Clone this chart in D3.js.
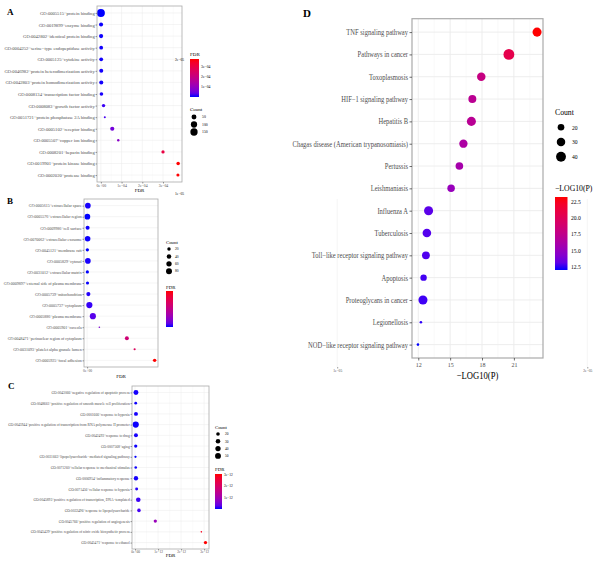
<!DOCTYPE html>
<html><head><meta charset="utf-8">
<script src="https://cdn.jsdelivr.net/npm/d3@7"></script>
<style>body{margin:0;background:#fff}svg{display:block}</style>
</head><body><svg id="c" width="600" height="563"></svg>
<script>
// ---------- Panel A (GO molecular function) ----------
const aTerms = ["GO:0005515~protein binding","GO:0019899~enzyme binding","GO:0042802~identical protein binding",
 "GO:0004252~serine−type endopeptidase activity","GO:0005125~cytokine activity","GO:0046982~protein heterodimerization activity",
 "GO:0042803~protein homodimerization activity","GO:0008134~transcription factor binding","GO:0008083~growth factor activity",
 "GO:0051721~protein phosphatase 2A binding","GO:0005102~receptor binding","GO:0005507~copper ion binding",
 "GO:0008201~heparin binding","GO:0019901~protein kinase binding","GO:0002020~protease binding"];
const aFDR = [2e-8,1.0e-6,1.2e-6,1.6e-6,1.6e-6,2.0e-6,2.0e-6,2.8e-6,1.3e-5,1.9e-5,5.5e-5,8.4e-5,3.0e-4,3.73e-4,3.72e-4];
const aCount = [190,28,30,22,22,26,28,20,16,6,30,7,14,18,12];
const aXTicks = [0,1e-4,2e-4,3e-4];
const aXTickLabels = ["0e+00","1e−04","2e−04","3e−04"];
const aColorTicks = [1e-4,2e-4,3e-4];
const aColorTickLabels = ["1e−04","2e−04","3e−04"];
const aSizeBreaks = [50,100,150];

// ---------- Panel B (GO cellular component) ----------
const bTerms = ["GO:0005615~extracellular space","GO:0005576~extracellular region","GO:0009986~cell surface",
 "GO:0070062~extracellular exosome","GO:0045121~membrane raft","GO:0005829~cytosol","GO:0031012~extracellular matrix",
 "GO:0009897~external side of plasma membrane","GO:0005739~mitochondrion","GO:0005737~cytoplasm",
 "GO:0005886~plasma membrane","GO:0005901~caveola","GO:0048471~perinuclear region of cytoplasm",
 "GO:0031093~platelet alpha granule lumen","GO:0005925~focal adhesion"];
const bFDR = [3e-8,1e-8,2e-8,2e-8,1e-8,3e-8,1e-8,1.5e-8,5e-8,9e-8,2.3e-7,4.9e-7,1.59e-6,1.9e-6,2.7e-6];
const bCount = [70,72,30,68,18,70,17,16,32,88,86,7,28,8,20];
const bXTicks = [0,1e-5,2e-5];
const bXTickLabels = ["0e+00","1e−05","2e−05"];
const bColorTicks = [1e-5,2e-5];
const bColorTickLabels = ["1e−05","2e−05"];
const bSizeBreaks = [20,40,60,80];

// ---------- Panel C (GO biological process) ----------
const cTerms = ["GO:0043066~negative regulation of apoptotic process",
 "GO:0048661~positive regulation of smooth muscle cell proliferation","GO:0001666~response to hypoxia",
 "GO:0045944~positive regulation of transcription from RNA polymerase II promoter","GO:0042493~response to drug",
 "GO:0007568~aging","GO:0031663~lipopolysaccharide−mediated signaling pathway",
 "GO:0071260~cellular response to mechanical stimulus","GO:0006954~inflammatory response",
 "GO:0071456~cellular response to hypoxia","GO:0045893~positive regulation of transcription, DNA−templated",
 "GO:0032496~response to lipopolysaccharide","GO:0045766~positive regulation of angiogenesis",
 "GO:0045429~positive regulation of nitric oxide biosynthetic process","GO:0045471~response to ethanol"];
const cFDR = [4e-14,3e-14,4e-14,3e-14,4e-14,3e-14,2e-14,3e-14,4e-14,7e-14,1.4e-13,1.7e-13,8.8e-13,2.88e-12,3.06e-12];
const cCount = [35,14,23,56,23,17,12,13,27,15,30,19,17,11,17];
const cXTicks = [0,1e-12,2e-12,3e-12];
const cXTickLabels = ["0e+00","1e−12","2e−12","3e−12"];
const cColorTicks = [1e-12,2e-12,3e-12];
const cColorTickLabels = ["1e−12","2e−12","3e−12"];
const cSizeBreaks = [20,30,40,50];

// ---------- Panel D (KEGG) ----------
const dTerms = ["TNF signaling pathway","Pathways in cancer","Toxoplasmosis","HIF−1 signaling pathway","Hepatitis B",
 "Chagas disease (American trypanosomiasis)","Pertussis","Leishmaniasis","Influenza A","Tuberculosis",
 "Toll−like receptor signaling pathway","Apoptosis","Proteoglycans in cancer","Legionellosis",
 "NOD−like receptor signaling pathway"];
const dLogP = [23.18,20.53,17.93,17.09,17.0,16.25,15.87,15.09,12.97,12.81,12.72,12.5,12.44,12.25,11.97];
const dCount = [34,48,30,27,34,29,25,24,34,31,26,19,34,11,11];
const dXTicks = [12,15,18,21];
const dXTickLabels = ["12","15","18","21"];
const dColorTicks = [12.5,15,17.5,20,22.5];
const dColorTickLabels = ["12.5","15.0","17.5","20.0","22.5"];
const dSizeBreaks = [20,30,40];

const svg = d3.select("#c");
const defs = svg.append("defs");
const SERIF = "Liberation Serif, Times New Roman, serif";
let gradId = 0;

function txt(g, x, y, s, size, anchor, opts = {}) {
  const sx = opts.sx || 1;
  return g.append("text")
    .attr("transform", `translate(${x},${y}) scale(${sx},1)`)
    .attr("text-anchor", anchor)
    .attr("dy", "0.35em")
    .attr("font-family", SERIF)
    .attr("font-size", size)
    .attr("font-weight", opts.bold ? "bold" : "normal")
    .attr("fill", opts.fill || "#000")
    .text(s);
}

function panel(cfg) {
  const g = svg.append("g");
  const ext = d3.extent(cfg.xs);
  const pad = (ext[1] - ext[0]) * 0.05;
  const x = d3.scaleLinear().domain([ext[0] - pad, ext[1] + pad]).range([cfg.px0, cfg.px1]);
  const y = d3.scalePoint().domain(cfg.terms).range([cfg.py0, cfg.py1]).padding(0.6);
  const col = d3.scaleLinear().domain(ext).range(["blue", "red"]).interpolate(d3.interpolateLab);
  const cext = d3.extent(cfg.counts);
  const cNorm = d3.scaleLinear().domain(cext).range([0, 1]);
  const r = c => cfg.rmin + (cfg.rmax - cfg.rmin) * Math.sqrt(Math.max(0, cNorm(c)));

  // grid
  const step = cfg.xTicks[1] - cfg.xTicks[0];
  const minors = cfg.xTicks.map(t => t + step / 2).concat([cfg.xTicks[0] - step / 2])
    .filter(t => t > x.domain()[0] && t < x.domain()[1]);
  g.append("g").selectAll("line").data(minors).join("line")
    .attr("x1", d => x(d)).attr("x2", d => x(d)).attr("y1", cfg.py0).attr("y2", cfg.py1)
    .attr("stroke", "#f3f3f3").attr("stroke-width", cfg.gw * 0.6);
  g.append("g").selectAll("line").data(cfg.xTicks).join("line")
    .attr("x1", d => x(d)).attr("x2", d => x(d)).attr("y1", cfg.py0).attr("y2", cfg.py1)
    .attr("stroke", "#ebebeb").attr("stroke-width", cfg.gw);
  g.append("g").selectAll("line").data(cfg.terms).join("line")
    .attr("x1", cfg.px0).attr("x2", cfg.px1).attr("y1", d => y(d)).attr("y2", d => y(d))
    .attr("stroke", "#ebebeb").attr("stroke-width", cfg.gw);

  // points
  g.append("g").selectAll("circle").data(d3.range(cfg.terms.length)).join("circle")
    .attr("cx", i => x(cfg.xs[i])).attr("cy", i => y(cfg.terms[i]))
    .attr("r", i => r(cfg.counts[i])).attr("fill", i => col(cfg.xs[i]));

  // border
  g.append("rect").attr("x", cfg.px0).attr("y", cfg.py0)
    .attr("width", cfg.px1 - cfg.px0).attr("height", cfg.py1 - cfg.py0)
    .attr("fill", "none").attr("stroke", "#aaaaaa").attr("stroke-width", cfg.bw);

  // y axis
  const ya = g.append("g").attr("transform", `translate(${cfg.px0},0)`)
    .call(d3.axisLeft(y).tickSize(cfg.tk).tickPadding(cfg.lp));
  ya.select(".domain").remove();
  ya.selectAll("line").attr("stroke", "#333").attr("stroke-width", cfg.bw * 0.6);
  ya.selectAll("text")
    .attr("x", -(cfg.tk + cfg.lp) / cfg.sx)
    .attr("transform", `scale(${cfg.sx},1)`)
    .attr("font-family", SERIF).attr("font-size", cfg.fs).attr("fill", "#4d4d4d");

  // x axis
  const xa = g.append("g").attr("transform", `translate(0,${cfg.py1})`)
    .call(d3.axisBottom(x).tickValues(cfg.xTicks).tickSize(cfg.tk).tickPadding(cfg.xtPad)
      .tickFormat((d, i) => cfg.xTickLabels[i]));
  xa.select(".domain").remove();
  xa.selectAll("line").attr("stroke", "#333").attr("stroke-width", cfg.bw * 0.6);
  xa.selectAll("text")
    .attr("transform", `scale(${cfg.sx},1)`)
    .attr("font-family", SERIF).attr("font-size", cfg.xfs).attr("fill", "#4d4d4d");
  txt(g, (cfg.px0 + cfg.px1) / 2, cfg.py1 + cfg.titleOff, cfg.xTitle, cfg.tfs, "middle", { sx: cfg.sx });

  // panel letter
  txt(g, cfg.letter[0], cfg.letter[1], cfg.letter[2], cfg.letter[3], "start", { bold: true });

  // colour legend
  const cl = cfg.colLeg;
  const lgG = g.append("g");
  txt(lgG, cl.x, cl.titleY, cfg.colTitle, cl.tfs, "start", { sx: cfg.sx });
  const id = "grad" + (gradId++);
  const lg = defs.append("linearGradient").attr("id", id)
    .attr("x1", "0").attr("y1", "1").attr("x2", "0").attr("y2", "0");
  d3.range(11).forEach(k => lg.append("stop").attr("offset", k / 10)
    .attr("stop-color", col(ext[0] + (k / 10) * (ext[1] - ext[0]))));
  lgG.append("rect").attr("x", cl.x).attr("y", cl.y0).attr("width", cl.w).attr("height", cl.y1 - cl.y0)
    .attr("fill", `url(#${id})`);
  const cy = d3.scaleLinear().domain(ext).range([cl.y1, cl.y0]);
  cfg.colorTicks.forEach((t, i) => {
    txt(lgG, cl.x + cl.w + cl.lp, cy(t), cfg.colorTickLabels[i], cl.fs, "start", { sx: cfg.sx });
  });

  // size legend
  const sl = cfg.sizeLeg;
  const sG = g.append("g");
  txt(sG, sl.x, sl.titleY, "Count", sl.tfs, "start", { sx: cfg.sx });
  cfg.sizeBreaks.forEach((b, i) => {
    const yy = sl.y0 + i * sl.dy;
    sG.append("circle").attr("cx", sl.x + sl.cx).attr("cy", yy).attr("r", r(b)).attr("fill", "#000");
    txt(sG, sl.x + sl.lx, yy, String(b), sl.fs, "start", { sx: cfg.sx });
  });
}

panel({ terms: aTerms, xs: aFDR, counts: aCount, px0: 97, px1: 182, py0: 6, py1: 182,
  xTicks: aXTicks, xTickLabels: aXTickLabels, colorTicks: aColorTicks, colorTickLabels: aColorTickLabels,
  sizeBreaks: aSizeBreaks, rmin: 1.0, rmax: 4.0, fs: 4.6, sx: 1, xfs: 3.8, tfs: 5, tk: 1.5, lp: 0.8,
  xtPad: 0.5, titleOff: 8.5, xTitle: "FDR", colTitle: "FDR", gw: 0.5, bw: 0.8, letter: [7, 12, "A", 9],
  colLeg: { x: 190, titleY: 54, y0: 59, y1: 97, w: 9, lp: 2, fs: 3.8, tfs: 5 },
  sizeLeg: { x: 190, titleY: 109, y0: 117, dy: 7.5, cx: 4, lx: 12, fs: 3.8, tfs: 5 } });

panel({ terms: bTerms, xs: bFDR, counts: bCount, px0: 84, px1: 158, py0: 199, py1: 367,
  xTicks: bXTicks, xTickLabels: bXTickLabels, colorTicks: bColorTicks, colorTickLabels: bColorTickLabels,
  sizeBreaks: bSizeBreaks, rmin: 0.8, rmax: 3.1, fs: 4.0, sx: 1, xfs: 3.6, tfs: 5, tk: 1.5, lp: 0.8,
  xtPad: 0.8, titleOff: 9, xTitle: "FDR", colTitle: "FDR", gw: 0.5, bw: 0.8, letter: [7, 201, "B", 9],
  colLeg: { x: 166, titleY: 287, y0: 291, y1: 327, w: 7, lp: 2, fs: 3.6, tfs: 4.8 },
  sizeLeg: { x: 166, titleY: 242, y0: 249, dy: 7.4, cx: 3, lx: 9, fs: 3.6, tfs: 4.8 } });

panel({ terms: cTerms, xs: cFDR, counts: cCount, px0: 132, px1: 209, py0: 386, py1: 549,
  xTicks: cXTicks, xTickLabels: cXTickLabels, colorTicks: cColorTicks, colorTickLabels: cColorTickLabels,
  sizeBreaks: cSizeBreaks, rmin: 0.8, rmax: 3.1, fs: 3.6, sx: 1, xfs: 3.5, tfs: 5, tk: 1.5, lp: 0.8,
  xtPad: 0.3, titleOff: 6.5, xTitle: "FDR", colTitle: "FDR", gw: 0.5, bw: 0.8, letter: [8, 386, "C", 9],
  colLeg: { x: 215, titleY: 469, y0: 474, y1: 509, w: 7, lp: 2, fs: 3.5, tfs: 4.8 },
  sizeLeg: { x: 215, titleY: 427, y0: 434, dy: 7.3, cx: 3, lx: 10, fs: 3.5, tfs: 4.8 } });

panel({ terms: dTerms, xs: dLogP, counts: dCount, px0: 412, px1: 543, py0: 18.7, py1: 358,
  xTicks: dXTicks, xTickLabels: dXTickLabels, colorTicks: dColorTicks, colorTickLabels: dColorTickLabels,
  sizeBreaks: dSizeBreaks, rmin: 1.3, rmax: 5.4, fs: 7.6, sx: 0.86, xfs: 7, tfs: 10, tk: 2.5, lp: 1.5,
  xtPad: 1.5, titleOff: 17, xTitle: "−LOG10(P)", colTitle: "−LOG10(P)", gw: 0.9, bw: 1.2, letter: [303, 13, "D", 11],
  colLeg: { x: 555, titleY: 188, y0: 197, y1: 270, w: 12.5, lp: 3.5, fs: 6.5, tfs: 9 },
  sizeLeg: { x: 555, titleY: 112, y0: 127.3, dy: 14.7, cx: 6, lx: 17, fs: 6.5, tfs: 9 } });
</script>
</body></html>
